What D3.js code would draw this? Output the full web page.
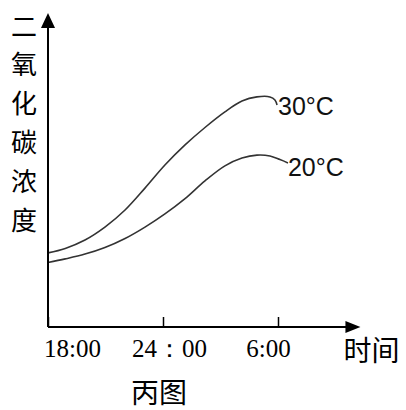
<!DOCTYPE html>
<html>
<head>
<meta charset="utf-8">
<script src="https://cdn.jsdelivr.net/npm/d3@7"></script>
<style>
  body { margin: 0; background: #fff; }
  svg { display: block; }
</style>
</head>
<body>
<div id="chart"></div>
<script>
// data (hour of day, 18 = 18:00, 30 = next 6:00)
var hours30 = [18, 18.9, 19.93, 20.97, 22.02, 23.06, 24.1, 25.15, 26.19, 27.23, 28.12, 28.9, 29.58, 29.84, 29.95];
var co2_30  = [24.7, 26.2, 29, 33.3, 39, 46.3, 54, 60.7, 66.5, 71.7, 75.3, 76.7, 76.7, 75.7, 74];
var hours20 = [18, 18.9, 19.93, 20.97, 22.02, 23.06, 24.1, 25.15, 26.19, 27.23, 28.12, 28.9, 29.58, 30.1, 30.52];
var co2_20  = [21.5, 22.7, 24.3, 26.5, 29.5, 33.3, 37.7, 42.8, 48.7, 53.7, 56.3, 57.3, 57, 55.8, 54.7];
var seriesNames = ["30°C", "20°C"];
var tickHours = [18, 24, 30];
var tickLabels = ["18:00", "24：00", "6:00"];
var yTitle = ["二", "氧", "化", "碳", "浓", "度"];
var xTitle = "时间";
var caption = "丙图";

var W = 406, H = 410;
var margin = {top: 27, right: 128, bottom: 83, left: 48};
var width = W - margin.left - margin.right,
    height = H - margin.top - margin.bottom;

var x = d3.scaleLinear().domain([18, 30]).range([0, width]);
var y = d3.scaleLinear().domain([0, 100]).range([height, 0]);

var svg = d3.select("#chart").append("svg")
    .attr("width", W)
    .attr("height", H);
var g = svg.append("g")
    .attr("transform", "translate(" + margin.left + "," + margin.top + ")");

// curves
var line = d3.line()
    .x(function(d) { return x(d[0]); })
    .y(function(d) { return y(d[1]); })
    .curve(d3.curveCatmullRom.alpha(0.5));

var series = [d3.zip(hours30, co2_30), d3.zip(hours20, co2_20)];
var labelShift = [[1, 10], [0, 13]];

series.forEach(function(pts, i) {
  g.append("path")
    .datum(pts)
    .attr("d", line)
    .attr("fill", "none")
    .attr("stroke", "#333")
    .attr("stroke-width", 1.6);
  var last = pts[pts.length - 1];
  g.append("text")
    .attr("x", x(last[0]) + labelShift[i][0])
    .attr("y", y(last[1]) + labelShift[i][1])
    .attr("font-family", "Liberation Sans, Arial, sans-serif")
    .attr("font-size", 25)
    .attr("fill", "#111")
    .text(seriesNames[i]);
});

// x axis with upward ticks
var tickDx = [24, 6, -10];
var xAxis = d3.axisBottom(x)
    .tickValues(tickHours)
    .tickSizeInner(-10)
    .tickSizeOuter(0)
    .tickFormat(function(d, i) { return tickLabels[i]; });
var ax = g.append("g")
    .attr("transform", "translate(0," + height + ")")
    .call(xAxis);
ax.select(".domain").remove();
ax.selectAll(".tick line").attr("stroke", "#000").attr("stroke-width", 1.5);
ax.selectAll(".tick text")
    .attr("font-family", "Liberation Serif, Times New Roman, serif")
    .attr("font-size", 25)
    .attr("fill", "#000")
    .attr("y", 30)
    .attr("dy", 0)
    .attr("dx", function(d, i) { return tickDx[i]; });

// axis lines with arrows
var xEnd = x(34.3), yEnd = -14;
g.append("line")
    .attr("x1", 0).attr("y1", height)
    .attr("x2", xEnd - 8).attr("y2", height)
    .attr("stroke", "#000").attr("stroke-width", 2);
g.append("line")
    .attr("x1", 0).attr("y1", height)
    .attr("x2", 0).attr("y2", yEnd + 8)
    .attr("stroke", "#000").attr("stroke-width", 2);
g.append("path")
    .attr("d", "M" + xEnd + "," + height + "L" + (xEnd - 15) + "," + (height - 6) + "L" + (xEnd - 15) + "," + (height + 6) + "Z")
    .attr("fill", "#000");
g.append("path")
    .attr("d", "M0," + yEnd + "L-7," + (yEnd + 15) + "L7," + (yEnd + 15) + "Z")
    .attr("fill", "#000");

// titles
var cjk = "Noto Sans CJK SC, sans-serif";
svg.selectAll(".ytitle")
    .data(yTitle)
  .enter().append("text")
    .attr("class", "ytitle")
    .attr("x", 24)
    .attr("y", function(d, i) { return 24 + i * 38.8; })
    .attr("text-anchor", "middle")
    .attr("dominant-baseline", "central")
    .attr("font-family", cjk)
    .attr("font-size", 26)
    .attr("fill", "#000")
    .text(function(d) { return d; });

svg.append("text")
    .attr("x", margin.left + xEnd + 11)
    .attr("y", margin.top + height + 22)
    .attr("text-anchor", "middle")
    .attr("dominant-baseline", "central")
    .attr("font-family", cjk)
    .attr("font-size", 28)
    .attr("fill", "#000")
    .text(xTitle);

svg.append("text")
    .attr("x", 159)
    .attr("y", 391)
    .attr("text-anchor", "middle")
    .attr("dominant-baseline", "central")
    .attr("font-family", cjk)
    .attr("font-size", 28)
    .attr("fill", "#000")
    .text(caption);
</script>
</body>
</html>
